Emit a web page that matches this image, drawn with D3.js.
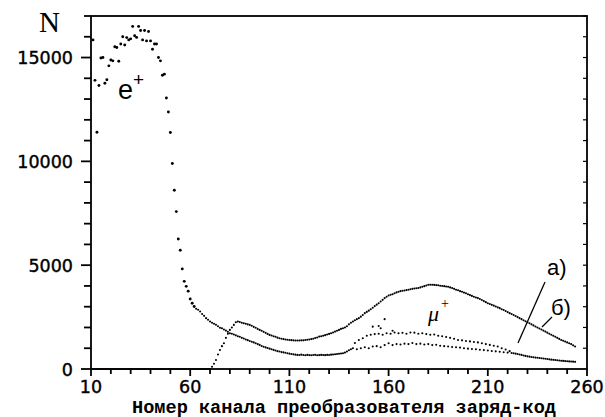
<!DOCTYPE html>
<html><head><meta charset="utf-8">
<script src="https://cdn.jsdelivr.net/npm/d3@7"></script>
<style>html,body{margin:0;padding:0;background:#fff;}</style>
</head><body>
<svg id="c" width="605" height="417"></svg>
<script>
// ---- data ----
const startA = 11; // first channel of spectrum a) (e+ peak and lower tail)
const countsA = [
15850,13900,11400,13650,14980,15000,13760,13930,14600,14880,
14840,15520,15480,14820,15650,16000,15600,15960,15850,15900,
16500,16050,15970,16500,16300,15850,16300,15800,16250,15800,
15400,15650,15650,15000,14840,14150,14200,13050,12380,11390,
9900,8610,7580,6260,5720,4820,4220,3980,3750,3370,
3170,3010,2900,2850,2770,2650,2560,2450,2370,2290,
2230,2180,2130,2060,1990,1960,1900,1850,1790,1720,
1700,1660,1620,1580,1550,1500,1470,1420,1390,1350,
1310,1280,1240,1200,1160,1110,1070,1040,1010,980,
950,920,890,860,840,815,800,780,760,740,
725,705,690,680,672,690,675,665,680,670,
660,676,682,665,670,680,675,668,680,676,
690,700,712,722,735,746,760,790,840,900,
950,1000,
1250,950,1400,1000,1480,1050,1600,1000,
1650,1080,1680,1100,1700,1050,1650,1150,1720,1240,
1700,1150,1760,1200,1720,1180,1740,1220,1700,1200,
1760,1250,1750,1200,1700,1220,1720,1180,1680,1200,
1650,1150,1660,1170,1600,1120,1580,1100,1540,1080,
1500,1060,1460,1050,1400,1030,1380,1000,1350,980,
1330,960,1300,950,1280,930,1240,910,1200,890,
1160,870,1120,850,1080,830,1000,810,940,790,
860,770,
760,740,720,700,680,650,630,610,595,580,565,550,540,530,517,505,
495,480,465,450,440,430,420,410,400,390,380,372,365,360,353,345
];
const startB = 10; // first channel of spectrum б)
const countsB = [
0,0,0,0,0,0,0,0,0,0, 0,0,0,0,0,0,0,0,0,0,
0,0,0,0,0,0,0,0,0,0, 0,0,0,0,0,0,0,0,0,0,
0,0,0,0,0,0,0,0,0,0, 0,0,0,0,0,0,0,0,0,0, 0,
110,250,435,700,918,1100,1240,1500,1700,1884,
2000,2125,2250,2285,2260,2230,2200,2180,2150,2125,
2080,2030,1990,1930,1884,1840,1790,1740,1690,1643,
1610,1580,1550,1510,1480,1460,1440,1420,1410,1400,
1390,1380,1370,1370,1370,1380,1380,1400,1410,1420,
1440,1460,1490,1520,1560,1580,1600,1630,1660,1690,
1720,1760,1800,1840,1884,1930,1960,2000,2060,2150,
2230,2285,2350,2400,2450,2520,2600,2690,2750,2810,
2880,2950,3030,3100,3170,3250,3330,3415,3480,3540,
3575,3600,3650,3690,3720,3750,3770,3780,3800,3816,
3840,3860,3880,3890,3900,3930,3960,3990,4020,4058,
4060,4058,4050,4040,4030,4010,4000,3990,3976,3960,
3930,3900,3860,3816,3790,3750,3720,3680,3650,3600,
3560,3520,3480,3440,3415,3370,3320,3270,3220,3170,
3130,3090,3050,3010,2970,2930,2880,2840,2790,2740,
2690,2650,2600,2550,2500,2450,2400,2350,2300,2250,
2200,2150,2100,2050,2000,1950,1900,1850,1800,1750,
1700,1650,1600,1550,1500,1450,1400,1360,1320,1280,
1240,1200,1140,1080
];
const extraCh = [152,155,156,158,162];
const extraCounts = [2040,2070,1960,2400,1840];
const xTicks = [10,60,110,160,210,260];
const yTicks = [0,5000,10000,15000];
const xMinorStep = 10;
const yMinorStep = 1000;
const xLabel = "Номер канала преобразователя заряд-код";

// ---- chart ----
const svg = d3.select("#c");
const L=91, R=587, T=16, B=369;
const x = d3.scaleLinear().domain([10,260]).range([L,R]);
const y = d3.scaleLinear().domain([0,17000]).range([B,T]);

const ptsA = countsA.map((v,i)=>({c:startA+i,v}));
const ptsB = countsB.map((v,i)=>({c:startB+i,v}));
const ptsE = extraCh.map((c,i)=>({c,v:extraCounts[i]}));

// tick marks (from the scales)
const yTickVals = d3.range(0,17001,yMinorStep);
const xTickVals = d3.range(10,261,xMinorStep);
const tk = svg.append("g").attr("stroke","#000");
tk.selectAll(".ytl").data(yTickVals).join("line")
  .attr("x1",L).attr("x2",d=>yTicks.includes(d)?L-10:L-7)
  .attr("y1",d=>y(d)).attr("y2",d=>y(d)).attr("stroke-width",1.8);
tk.selectAll(".ytr").data(yTickVals.filter(d=>d>0)).join("line")
  .attr("x1",R).attr("x2",R-4)
  .attr("y1",d=>y(d)).attr("y2",d=>y(d)).attr("stroke-width",1.2);
tk.selectAll(".xt").data(xTickVals).join("line")
  .attr("x1",d=>x(d)).attr("x2",d=>x(d))
  .attr("y1",B).attr("y2",d=>xTicks.includes(d)?B+7:B+5).attr("stroke-width",1.8);

svg.append("rect").attr("x",L).attr("y",T).attr("width",R-L).attr("height",B-T)
  .attr("fill","none").attr("stroke","#000").attr("stroke-width",1.8);

svg.selectAll(".yl").data(yTicks).enter().append("text")
  .attr("x",73).attr("y",d=>y(d)+6.5).attr("text-anchor","end")
  .attr("font-family","DejaVu Sans").attr("font-size",17.5).attr("fill","#000")
  .attr("stroke","#000").attr("stroke-width",0.4).text(d=>d);
svg.selectAll(".xl").data(xTicks).enter().append("text")
  .attr("x",d=>x(d)).attr("y",393).attr("text-anchor","middle")
  .attr("font-family","DejaVu Sans").attr("font-size",17.5).attr("fill","#000")
  .attr("stroke","#000").attr("stroke-width",0.4).text(d=>d);
svg.append("text").attr("x",132).attr("y",413).attr("textLength",424).attr("lengthAdjust","spacingAndGlyphs")
  .attr("font-family","Liberation Mono").attr("font-weight","bold").attr("font-size",18).text(xLabel);
svg.append("text").attr("x",39).attr("y",32).attr("font-family","Liberation Serif")
  .attr("font-size",29).text("N");

// points
const dots = ptsA.concat(ptsB, ptsE);
svg.append("g").selectAll("circle").data(dots).enter().append("circle")
  .attr("cx",d=>x(d.c)).attr("cy",d=>y(d.v)).attr("r",d=>d.v>3000&&d.c<70?1.45:1.05).attr("fill","#000");

// annotations
const ep = svg.append("text").attr("x",118).attr("y",99).attr("font-family","Liberation Sans").attr("font-size",27);
ep.append("tspan").text("e");
ep.append("tspan").attr("dy",-13).attr("font-size",19).text("+");
const mu = svg.append("text").attr("x",428).attr("y",321).attr("font-family","Liberation Serif").attr("font-style","italic").attr("font-size",22);
mu.append("tspan").text("μ");
mu.append("tspan").attr("dy",-13).attr("dx",2).attr("font-size",14).attr("font-style","normal").text("+");
svg.append("text").attr("x",547).attr("y",275).attr("font-family","Liberation Sans").attr("font-size",22).text("а)");
svg.append("text").attr("x",551).attr("y",315).attr("font-family","Liberation Sans").attr("font-size",22).text("б)");
svg.append("line").attr("x1",545).attr("y1",282).attr("x2",518).attr("y2",343).attr("stroke","#000").attr("stroke-width",1.3);
svg.append("line").attr("x1",552).attr("y1",317).attr("x2",542).attr("y2",327).attr("stroke","#000").attr("stroke-width",1.3);
</script>
</body></html>
